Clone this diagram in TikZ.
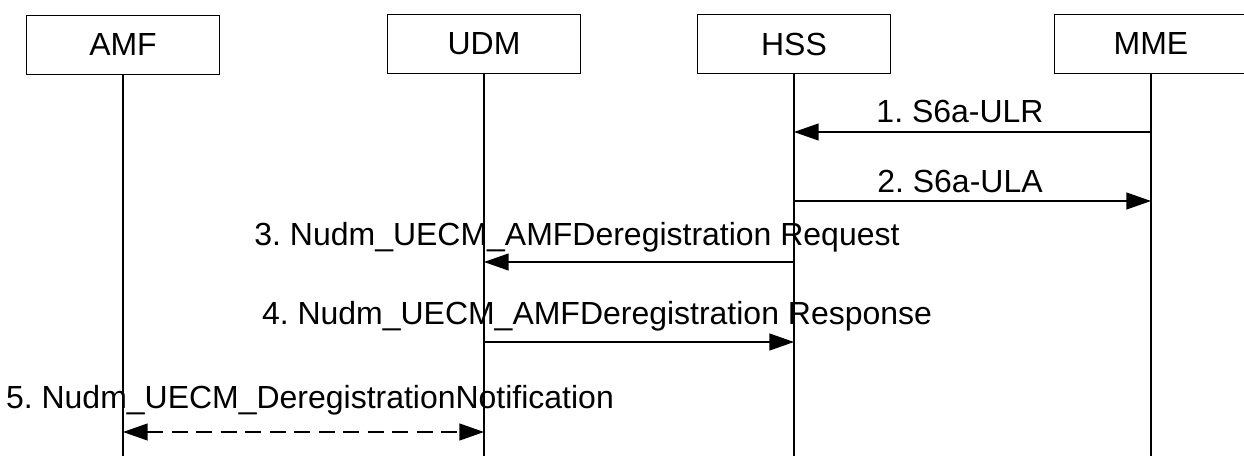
\documentclass[tikz,border=0pt]{standalone}
\usepackage{fontspec}
\setmainfont{Liberation Sans}
\usetikzlibrary{arrows.meta}
\frenchspacing
\begin{document}
\begin{tikzpicture}[
    x=0.02cm, y=-0.02cm,
    font=\fontsize{18.2pt}{21pt}\selectfont,
    entity/.style={draw, line width=0.8pt, minimum width=3.86cm, minimum height=1.18cm, inner sep=0pt},
    lifeline/.style={line width=0.7pt},
    msg/.style={line width=0.8pt, -{Triangle[length=14pt, width=9.6pt]}},
    lbl/.style={inner sep=0pt}
    ]
    \useasboundingbox (0,0) rectangle (1244,456);
	\node [entity] (amf) at (123,45) {AMF};
	\node [entity] (udm) at (484,44) {UDM};
	\node [entity] (hss) at (794,44) {HSS};
	\node [entity] (mme) at (1151,44) {MME};
	% lifelines
	\foreach \e in {amf,udm,hss,mme}
		\draw [lifeline] (\e.south) -- (\e.south |- 0,456);
	% messages
	\coordinate (m1) at (0,132);
	\coordinate (m2) at (0,201);
	\coordinate (m3) at (0,262);
	\coordinate (m4) at (0,342);
	\coordinate (m5) at (0,432);
	\draw [msg] (mme |- m1) -- (hss |- m1);
	\draw [msg] (hss |- m2) -- (mme |- m2);
	\draw [msg] (hss |- m3) -- (udm |- m3);
	\draw [msg] (udm |- m4) -- (hss |- m4);
	\draw [msg, {Triangle[length=14pt, width=9.6pt]}-{Triangle[length=14pt, width=9.6pt]}, dash pattern=on 0.32cm off 0.17cm] (amf |- m5) -- (udm |- m5);
	\node [lbl] (l1) at (960,111) {1. S6a-ULR};
	\node [lbl] (l2) at (960,181) {2. S6a-ULA};
	\node [lbl] (l3) at (577,237) {3. Nudm\_UECM\_AMFDeregistration Request};
	\node [lbl] (l4) at (597,316) {4. Nudm\_UECM\_AMFDeregistration Response};
	\node [lbl] (l5) at (310,400) {5. Nudm\_UECM\_DeregistrationNotification};
\end{tikzpicture}
\end{document}
